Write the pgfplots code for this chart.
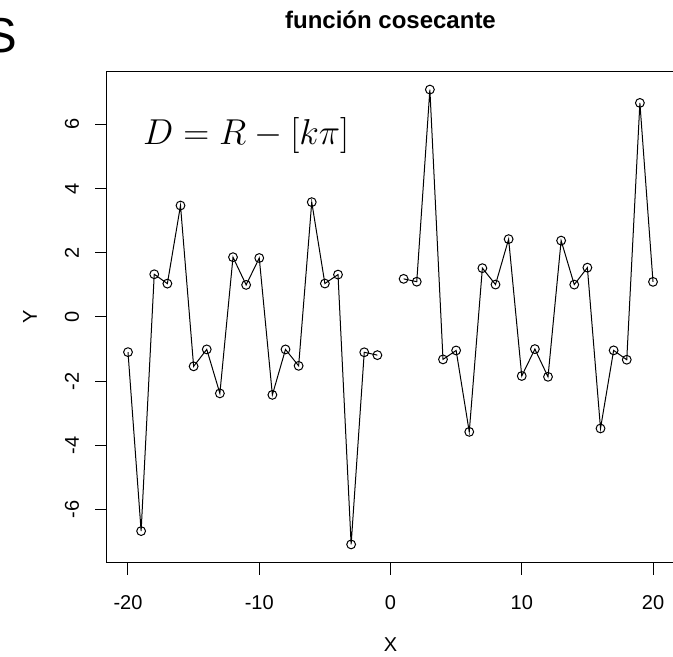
\RequirePackage{fix-cm}
\documentclass[border=0pt]{standalone}
\usepackage{fontspec}
\setmainfont{Liberation Sans}
\usepackage{pgfplots}
\pgfplotsset{compat=1.18}
\begin{document}
\begin{tikzpicture}
\begin{axis}[
  at={(0pt,0pt)}, anchor=south west,
  scale only axis, width=425.25pt, height=368.4pt,
  xmin=-21.6, xmax=21.6, ymin=-7.653, ymax=7.653,
  xtick={-20,-10,0,10,20}, ytick={-6,-4,-2,0,2,4,6},
  tick align=outside, xtick pos=bottom, ytick pos=left,
  major tick length=9pt,
  tick style={black, line width=0.75pt},
  axis line style={black, line width=0.75pt},
  /pgf/number format/assume math mode=true,
  ticklabel style={font=\fontsize{15}{18}\selectfont},
  yticklabel style={rotate=90, anchor=center},
  xticklabel style={anchor=center},
  yticklabel shift=17.25pt,
  xticklabel shift=21pt,
  title={función cosecante},
  title style={at={(axis description cs:0.5,1.0884)}, anchor=center, font=\bfseries\fontsize{18}{21}\selectfont},
  xlabel={X}, ylabel={Y},
  xlabel style={at={(axis description cs:0.5,-0.1677)}, anchor=center, font=\fontsize{15}{18}\selectfont},
  ylabel style={at={(axis description cs:-0.1358,0.5)}, anchor=center, font=\fontsize{15}{18}\selectfont},
  clip=false,
]
\addplot[black, line width=0.75pt, mark=o, mark size=3.3pt, mark options={solid, line width=0.75pt}] coordinates {
(-20,-1.0954) (-19,-6.6708) (-18,1.3316) (-17,1.0402) (-16,3.4733)
(-15,-1.5378) (-14,-1.0095) (-13,-2.3800) (-12,1.8637) (-11,1.0000)
(-10,1.8382) (-9,-2.4265) (-8,-1.0108) (-7,-1.5221) (-6,3.5789)
(-5,1.0428) (-4,1.3213) (-3,-7.0862) (-2,-1.0998) (-1,-1.1884)
};
\addplot[black, line width=0.75pt, mark=o, mark size=3.3pt, mark options={solid, line width=0.75pt}] coordinates {
(1,1.1884) (2,1.0998) (3,7.0862) (4,-1.3213) (5,-1.0428)
(6,-3.5789) (7,1.5221) (8,1.0108) (9,2.4265) (10,-1.8382)
(11,-1.0000) (12,-1.8637) (13,2.3800) (14,1.0095) (15,1.5378)
(16,-3.4733) (17,-1.0402) (18,-1.3316) (19,6.6708) (20,1.0954)
};
\node[font=\fontsize{27}{30}\selectfont] at (axis cs:-11,5.67) {$D = R - [k\pi]$};
\end{axis}
\node[anchor=base east, inner sep=0pt, font=\fontsize{36.75}{40}\selectfont] at (-67.125pt,382.2pt) {S};
\pgfresetboundingbox
\path[use as bounding box] (-80.25pt,-70.05pt) rectangle (424.5pt,421.95pt);
\end{tikzpicture}
\end{document}
